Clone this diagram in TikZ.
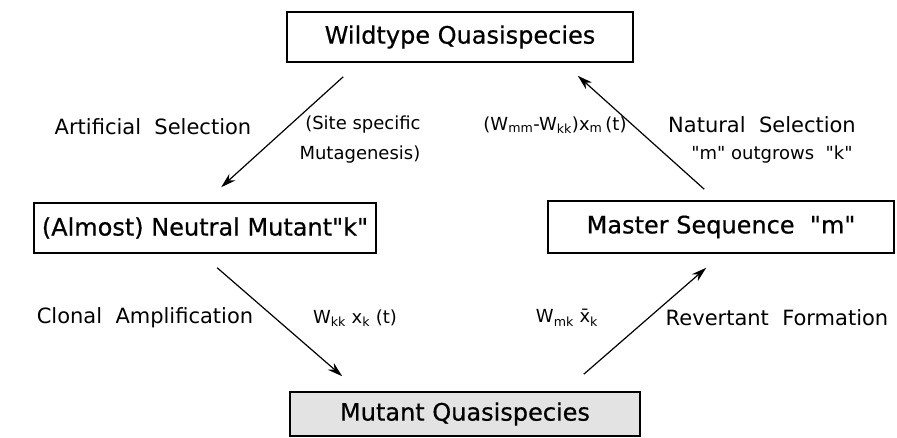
\documentclass[tikz,border=0pt]{standalone}
\usepackage{fontspec}
\setmainfont{DejaVu Sans}
\newfontfamily\boxfont[FakeBold=0.6]{DejaVu Sans}
\usetikzlibrary{arrows.meta, positioning}

\begin{document}
\begin{tikzpicture}[x=1pt, y=-1pt,
    box/.style={rectangle, draw=black, line width=1.6pt, text centered,
      minimum width=346pt, minimum height=50pt, inner sep=4pt,
      font=\boxfont\fontsize{24}{28}\selectfont},
    lab/.style={font=\fontsize{21}{25}\selectfont},
    eqlab/.style={font=\fontsize{18}{30}\selectfont},
    arr/.style={line width=1.2pt, -{Stealth[length=15pt, width=9pt]}}]
  \useasboundingbox (0,0) rectangle (897,438);

  \node (wild) [box] at (460,37) {Wildtype Quasispecies};
  \node (neutral) [box, minimum width=342pt] at (205,228) {(Almost) Neutral Mutant\textquotedbl k\textquotedbl};
  \node (master) [box, minimum height=52pt] at (721,227) {Master Sequence \ \textquotedbl m\textquotedbl};
  \node (mutant) [box, fill=gray!22, minimum width=350pt, minimum height=44pt]
    at (465,414) {Mutant Quasispecies};

  \draw[arr] ([xshift=57pt, yshift=-14pt]wild.south west) -- ([xshift=188pt, yshift=15pt]neutral.north west);
  \draw[arr] ([xshift=157pt, yshift=11pt]master.north west) -- ([xshift=-56pt, yshift=-13pt]wild.south east);
  \draw[arr] ([xshift=184pt, yshift=-14pt]neutral.south west) -- ([xshift=53pt, yshift=15pt]mutant.north west);
  \draw[arr] ([xshift=-57pt, yshift=17pt]mutant.north east) -- ([xshift=159pt, yshift=-14pt]master.south west);

  \node (artsel) [lab] at (153,127) {Artificial\ \ Selection};
  \node (sitemut) [eqlab, align=left, anchor=west] at (296,140) {\ (Site specific\\Mutagenesis)};
  \node (natrate) [eqlab] at (555,125) {(W\textsubscript{mm}-W\textsubscript{kk})x\textsubscript{m}\,(t)};
  \node (natsel) [lab] at (762,125) {Natural\ \ Selection};
  \node (outgrow) [eqlab] at (772,155) {\textquotedbl m\textquotedbl\ outgrows\ \ \textquotedbl k\textquotedbl};
  \node (clonal) [lab] at (145,318) {Clonal\ \ Amplification};
  \node (clorate) [eqlab] at (355,318) {W\textsubscript{kk}\ x\textsubscript{k}\ (t)};
  \node (revrate) [eqlab] at (567,318) {W\textsubscript{mk}\ \={x}\textsubscript{k}};
  \node (revert) [lab] at (777,318) {Revertant\ \ Formation};
\end{tikzpicture}
\end{document}
